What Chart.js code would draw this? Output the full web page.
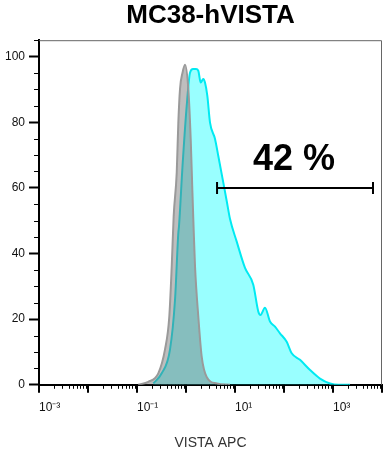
<!DOCTYPE html>
<html>
<head>
<meta charset="utf-8">
<script src="https://cdn.jsdelivr.net/npm/chart.js@4"></script>
<style>
  html, body { margin: 0; padding: 0; background: #fff; }
  canvas { display: block; }
</style>
</head>
<body>
<canvas id="histo" width="383" height="452"></canvas>
<script>
// isotype control histogram (grey)
const controlX = [0.106, 0.170, 0.272, 0.372, 0.456, 0.511, 0.560, 0.646, 0.697, 0.755, 0.849, 0.955,
                  1.114, 1.247, 1.345, 1.409, 1.527, 1.782, 2.09, 2.64, 4.24, 7.9];
const controlY = [0, 0.9, 3.5, 10.7, 20.8, 36.1, 51.4, 64.6, 79.9, 90.2, 95.1, 97.5,
                  90.2, 74.9, 59.6, 50.5, 36.1, 20.8, 8.6, 2.4, 0.4, 0];

// anti-VISTA stained histogram (cyan)
const vistaX = [0.215, 0.319, 0.471, 0.597, 0.697, 0.719, 0.849, 1.033, 1.207, 1.39, 1.60, 1.78,
                1.995, 2.25, 2.44, 2.72, 3.09, 3.91, 4.56, 5.77, 6.77, 7.91, 10.8, 16.0,
                23.6, 29.9, 33.1, 40.9, 51.8, 65.5, 82.8, 113.5, 143.6, 212, 340, 543,
                869, 1283, 2220];
const vistaY = [0.4, 3.5, 10.7, 26.0, 46.3, 48.3, 66.7, 85.0, 95.1, 96.2, 96.2, 95.7,
                92.1, 93.2, 92.1, 88.1, 79.9, 74.9, 69.7, 61.6, 56.0, 50.5, 43.7, 35.6,
                30.5, 22.3, 21.3, 23.5, 19.3, 17.7, 15.7, 13.1, 9.6, 7.6, 4.5, 1.9,
                0.4, 0, 0];

// gate
const gateRange = [4.3, 6550];
const gateLevel = 60;
const gateText = '42 %';

// axes
const xDecades = [-3, -2, -1, 0, 1, 2, 3, 4];
const xLabelExps = [-3, -1, 1, 3];
const xLabels = ['10\u207B\u00B3', '10\u207B\u00B9', '10\u00B9', '10\u00B3'];
const yTicks = [0, 20, 40, 60, 80, 100];

Chart.defaults.font.family = "'Liberation Sans', Arial, sans-serif";

const toPoints = (xs, ys) => xs.map((x, i) => ({ x: x, y: ys[i] }));

// x tick marks (major + minor), y minor ticks, frame and gate percentage
const flowDecor = {
  id: 'flowDecor',
  afterDraw(chart) {
    const { ctx, chartArea, scales: { x, y } } = chart;
    ctx.save();
    ctx.strokeStyle = '#000';

    ctx.lineWidth = 2;
    ctx.beginPath();
    xDecades.forEach(e => {
      const px = Math.round(x.getPixelForValue(Math.pow(10, e)));
      ctx.moveTo(px, chartArea.bottom);
      ctx.lineTo(px, chartArea.bottom + 8);
    });
    ctx.stroke();

    ctx.lineWidth = 1;
    ctx.beginPath();
    for (let e = -3; e < 4; e++) {
      for (let m = 2; m <= 9; m++) {
        const px = Math.round(x.getPixelForValue(m * Math.pow(10, e))) + 0.5;
        ctx.moveTo(px, chartArea.bottom);
        ctx.lineTo(px, chartArea.bottom + 4);
      }
    }
    for (let v = 5; v <= 105; v += 5) {
      if (v % 20 === 0) continue;
      const py = Math.round(y.getPixelForValue(v)) + 0.5;
      ctx.moveTo(chartArea.left, py);
      ctx.lineTo(chartArea.left - 5, py);
    }
    ctx.stroke();

    // top / right frame
    ctx.strokeStyle = '#666';
    ctx.beginPath();
    ctx.moveTo(chartArea.left, chartArea.top + 0.5);
    ctx.lineTo(chartArea.right - 0.5, chartArea.top + 0.5);
    ctx.lineTo(chartArea.right - 0.5, chartArea.bottom);
    ctx.stroke();

    ctx.fillStyle = '#000';
    ctx.font = "bold 36px 'Liberation Sans', Arial, sans-serif";
    ctx.textAlign = 'center';
    ctx.textBaseline = 'alphabetic';
    ctx.fillText(gateText, x.getPixelForValue(160), y.getPixelForValue(65.4));
    ctx.restore();
  }
};

new Chart(document.getElementById('histo'), {
  type: 'line',
  data: {
    datasets: [
      {
        label: 'gate',
        data: toPoints(gateRange, [gateLevel, gateLevel]),
        borderColor: '#000',
        borderWidth: 2,
        fill: false,
        pointStyle: 'line',
        rotation: 90,
        pointRadius: 6,
        pointBorderWidth: 2,
        pointBorderColor: '#000',
        order: 0
      },
      {
        label: 'Isotype',
        data: toPoints(controlX, controlY),
        borderColor: '#9a9a9a',
        backgroundColor: 'rgba(110, 110, 110, 0.45)',
        borderWidth: 2,
        fill: 'origin',
        pointRadius: 0,
        cubicInterpolationMode: 'monotone',
        order: 1
      },
      {
        label: 'VISTA',
        data: toPoints(vistaX, vistaY),
        borderColor: '#00eaf2',
        backgroundColor: 'rgba(0, 255, 255, 0.4)',
        borderWidth: 2,
        fill: 'origin',
        pointRadius: 0,
        cubicInterpolationMode: 'monotone',
        order: 2
      }
    ]
  },
  options: {
    responsive: false,
    animation: false,
    layout: { autoPadding: false, padding: { left: 1, right: 1, top: 0, bottom: 0 } },
    plugins: {
      legend: { display: false },
      tooltip: { enabled: false },
      title: {
        display: true,
        text: 'MC38-hVISTA',
        fullSize: false,
        color: '#000',
        font: { size: 26, weight: 'bold' },
        padding: { top: 0, bottom: 9 }
      }
    },
    scales: {
      x: {
        type: 'logarithmic',
        min: 0.001,
        max: 10000,
        afterBuildTicks: (scale) => {
          scale.ticks = xDecades.map(e => ({ value: Math.pow(10, e) }));
        },
        grid: { drawOnChartArea: false, tickLength: 16, tickColor: 'rgba(0,0,0,0)' },
        border: { color: '#000', width: 2 },
        ticks: {
          autoSkip: false,
          maxRotation: 0,
          align: 'start',
          padding: 0,
          color: '#111',
          font: { size: 12 },
          callback: (value) => {
            const i = xLabelExps.indexOf(Math.round(Math.log10(value)));
            return i >= 0 ? xLabels[i] : '';
          }
        },
        title: {
          display: true,
          text: 'VISTA APC',
          color: '#333',
          font: { size: 14 },
          padding: { top: 20, bottom: 0 }
        }
      },
      y: {
        type: 'linear',
        min: 0,
        max: 105,
        afterBuildTicks: (scale) => {
          scale.ticks = yTicks.map(v => ({ value: v }));
        },
        grid: { drawOnChartArea: false, tickLength: 10, tickWidth: 2, tickColor: '#000' },
        border: { color: '#000', width: 2 },
        ticks: { padding: 4, color: '#111', font: { size: 12 } }
      }
    }
  },
  plugins: [flowDecor]
});
</script>
</body>
</html>
